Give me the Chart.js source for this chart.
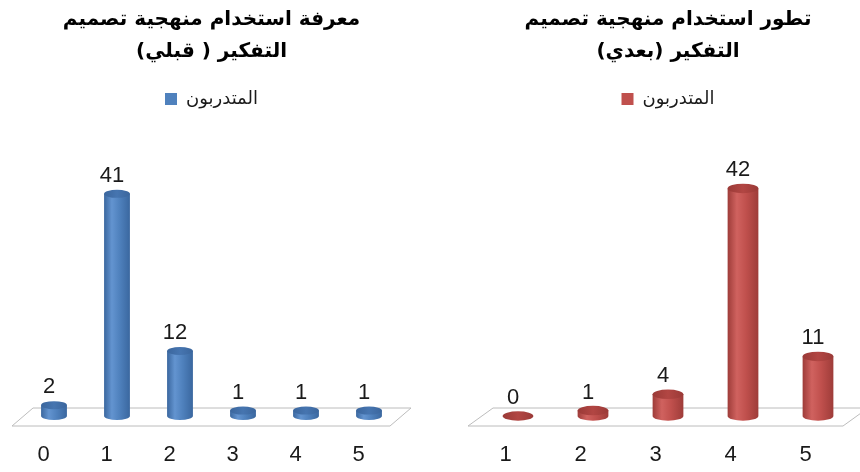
<!DOCTYPE html>
<html lang="ar">
<head>
<meta charset="utf-8">
<script src="https://cdn.jsdelivr.net/npm/chart.js@4.4.1/dist/chart.umd.min.js"></script>
<style>
  html, body { margin: 0; padding: 0; background: #fff; }
  #wrap { position: relative; width: 860px; height: 472px; overflow: hidden; }
  canvas { position: absolute; top: 0; }
  #before { left: 0; }
  #after { left: 430px; }
</style>
</head>
<body>
<div id="wrap">
  <canvas id="before" width="430" height="472" dir="rtl"></canvas>
  <canvas id="after" width="430" height="472" dir="rtl"></canvas>
</div>
<script>
// Trainee counts per rating, before and after the training
const beforeCategories = ['0', '1', '2', '3', '4', '5'];
const beforeValues = [2, 41, 12, 1, 1, 1];
const afterCategories = ['1', '2', '3', '4', '5'];
const afterValues = [0, 1, 4, 42, 11];
const seriesLabel = 'المتدربون';
const beforeTitle = ['معرفة استخدام منهجية تصميم', 'التفكير ( قبلي)'];
const afterTitle = ['تطور استخدام منهجية تصميم', 'التفكير (بعدي)'];

const BLUE = { base: '#4f81bd', edge: '#3a679f', light: '#6394d0', top: '#4675b0', rim: '#3b669d' };
const RED = { base: '#c0504d', edge: '#9e3c39', light: '#d0625f', top: '#b24643', rim: '#9a3a37' };

const ARABIC_FONT = "'DejaVu Sans', 'Liberation Sans', sans-serif";
const NUM_FONT = "'Liberation Sans', Arial, sans-serif";

function drawCylinder(ctx, cx, top, base, w, c) {
  const rx = w / 2;
  const ry = w * 0.155;
  if (base - top > 0.5) {
    const g = ctx.createLinearGradient(cx - rx, 0, cx + rx, 0);
    g.addColorStop(0, c.edge);
    g.addColorStop(0.3, c.light);
    g.addColorStop(0.6, c.base);
    g.addColorStop(1, c.edge);
    ctx.beginPath();
    ctx.moveTo(cx - rx, top);
    ctx.lineTo(cx - rx, base);
    ctx.ellipse(cx, base, rx, ry, 0, Math.PI, 0, true);
    ctx.lineTo(cx + rx, top);
    ctx.closePath();
    ctx.fillStyle = g;
    ctx.fill();
  }
  const tg = ctx.createLinearGradient(cx - rx, 0, cx + rx, 0);
  tg.addColorStop(0, c.rim);
  tg.addColorStop(0.5, c.top);
  tg.addColorStop(1, c.rim);
  ctx.beginPath();
  ctx.ellipse(cx, top, rx, ry, 0, 0, Math.PI * 2);
  ctx.fillStyle = tg;
  ctx.fill();
}

// Draws the floor plate and the cylinders in place of flat bars, then the value labels
const cylinderPlugin = {
  id: 'cylinders',
  beforeDatasetsDraw(chart, args, opts) {
    const ctx = chart.ctx;
    const xs = chart.scales.x;
    const base = chart.scales.y.getPixelForValue(0);
    const dx = (xs.right - xs.left) / chart.data.labels.length / 6;
    const front = base + 10, back = base - 8;
    ctx.save();
    ctx.beginPath();
    ctx.moveTo(xs.left - dx, front);
    ctx.lineTo(xs.right - dx, front);
    ctx.lineTo(xs.right + dx, back);
    ctx.lineTo(xs.left + dx, back);
    ctx.closePath();
    ctx.fillStyle = '#ffffff';
    ctx.fill();
    ctx.strokeStyle = '#bcbcbc';
    ctx.lineWidth = 1;
    ctx.stroke();
    const meta = chart.getDatasetMeta(0);
    meta.data.forEach(bar => {
      const p = bar.getProps(['x', 'y', 'base', 'width'], true);
      drawCylinder(ctx, p.x, p.y, p.base, p.width, opts.colors);
    });
    ctx.restore();
    return false;
  },
  afterDraw(chart) {
    const ctx = chart.ctx;
    const meta = chart.getDatasetMeta(0);
    const values = chart.data.datasets[0].data;
    ctx.save();
    ctx.direction = 'ltr';
    ctx.font = '22px ' + NUM_FONT;
    ctx.fillStyle = '#1a1a1a';
    ctx.textAlign = 'center';
    ctx.textBaseline = 'middle';
    meta.data.forEach((bar, i) => {
      const p = bar.getProps(['x', 'y'], true);
      ctx.fillText(String(values[i]), p.x - 5, p.y - 18);
    });
    ctx.restore();
  }
};

function makeChart(id, labels, values, title, colors, padLeft, padRight, labelOffset) {
  return new Chart(document.getElementById(id), {
    type: 'bar',
    data: {
      labels: labels,
      datasets: [{
        label: seriesLabel,
        data: values,
        backgroundColor: colors.base,
        categoryPercentage: 1,
        barPercentage: 0.41
      }]
    },
    options: {
      responsive: false,
      animation: false,
      devicePixelRatio: 1,
      layout: { padding: { left: padLeft, right: padRight, top: 4, bottom: 0 } },
      plugins: {
        cylinders: { colors: colors },
        tooltip: { enabled: false },
        title: {
          display: true,
          text: title,
          color: '#000',
          font: { family: ARABIC_FONT, size: 20, weight: 'bold', lineHeight: 1.6 },
          padding: { top: 0, bottom: 14 }
        },
        legend: {
          display: true,
          rtl: false,
          textDirection: 'rtl',
          labels: {
            color: '#1a1a1a',
            font: { family: ARABIC_FONT, size: 18 },
            boxWidth: 12,
            boxHeight: 12,
            padding: 8
          }
        }
      },
      scales: {
        x: {
          grid: { display: false, drawTicks: false },
          border: { display: false },
          ticks: {
            color: '#1a1a1a',
            font: { family: NUM_FONT, size: 22 },
            padding: 26,
            labelOffset: labelOffset,
            maxRotation: 0
          },
          afterFit(scale) { scale.height = 56; }
        },
        y: {
          display: false,
          min: 0,
          max: 55
        }
      }
    },
    plugins: [cylinderPlugin]
  });
}

makeChart('before', beforeCategories, beforeValues, beforeTitle, BLUE, 22.5, 29.5, -10.5);
makeChart('after', afterCategories, afterValues, afterTitle, RED, 50.5, 4.5, -12.5);
</script>
</body>
</html>
